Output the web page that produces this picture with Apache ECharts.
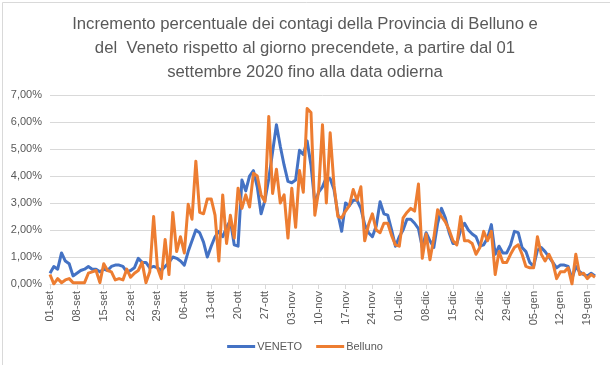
<!DOCTYPE html>
<html>
<head>
<meta charset="utf-8">
<script src="https://cdn.jsdelivr.net/npm/echarts@6/dist/echarts.min.js"></script>
<style>
html,body{margin:0;padding:0;background:#fff;}
#chart{width:610px;height:365px;}
</style>
</head>
<body>
<div id="chart"></div>
<script>
// ---- data ----
const startDate = [2020, 8, 1]; // 1 settembre 2020
const monthNames = ['gen','feb','mar','apr','mag','giu','lug','ago','set','ott','nov','dic'];
const dayCount = 143;
const yTicks = [0, 1, 2, 3, 4, 5, 6, 7];

const veneto = [
  0.40,0.65,0.55,1.15,0.85,0.75,0.30,0.40,0.50,0.55,
  0.65,0.55,0.55,0.45,0.55,0.50,0.65,0.70,0.70,0.65,
  0.45,0.50,0.60,0.95,0.80,0.80,0.60,0.65,0.60,0.50,
  0.65,0.80,1.00,0.95,0.85,0.70,1.20,1.60,2.00,1.90,
  1.55,1.00,1.40,1.75,1.95,1.75,2.10,2.35,1.45,1.40,
  3.85,3.45,4.00,4.20,3.60,2.60,3.10,3.90,4.90,5.90,
  5.10,4.40,3.80,3.75,3.85,4.95,4.80,5.30,4.40,3.00,
  3.40,3.60,3.95,3.90,3.50,2.60,1.95,3.00,2.90,3.10,
  3.10,2.80,2.20,1.90,1.75,2.15,3.05,2.60,2.55,2.00,
  1.40,1.75,2.00,2.40,2.40,2.25,2.05,1.35,1.90,1.60,
  1.35,2.25,2.80,2.45,1.90,1.50,1.50,2.00,2.25,2.00,
  1.85,1.75,1.40,1.45,1.70,2.20,1.10,1.40,1.15,1.15,
  1.45,1.95,1.90,1.35,1.20,0.80,0.65,1.25,1.35,1.20,
  1.00,0.80,0.60,0.70,0.70,0.65,0.20,0.65,0.45,0.35,
  0.30,0.40,0.30
];

const belluno = [
  0.35,0.00,0.20,0.05,0.15,0.20,0.05,0.05,0.05,0.05,
  0.40,0.45,0.50,0.05,0.75,0.50,0.45,0.15,0.20,0.15,
  0.55,0.25,0.40,0.50,0.80,0.05,0.45,2.50,0.60,0.20,
  1.65,0.35,2.65,1.20,1.75,1.15,2.95,2.40,4.55,2.65,
  2.60,3.15,3.15,2.55,0.85,3.30,1.50,2.55,1.70,3.55,
  2.80,3.30,2.85,4.10,4.00,3.30,3.05,6.20,3.35,4.25,
  3.00,3.30,1.70,3.55,2.10,4.20,3.40,6.50,6.35,2.55,
  3.45,5.90,3.00,5.60,3.65,2.50,2.45,2.70,2.90,3.50,
  3.10,3.60,1.60,2.20,2.60,2.00,1.90,2.25,2.25,1.80,
  1.45,1.40,2.45,2.65,2.80,2.70,3.70,0.95,1.85,0.90,
  1.70,2.75,2.50,2.30,2.00,1.60,1.45,2.50,1.60,1.60,
  1.50,1.10,1.35,1.95,1.60,1.95,0.35,1.20,0.80,0.80,
  1.10,1.35,1.45,1.10,0.65,0.60,0.60,1.75,1.10,0.85,
  1.10,0.80,0.20,0.45,0.45,0.60,0.00,1.10,0.35,0.40,
  0.20,0.35,0.25
];

const titleText = 'Incremento percentuale dei contagi della Provincia di Belluno e\ndel  Veneto rispetto al giorno precendete, a partire dal 01\nsettembre 2020 fino alla data odierna';

// category labels (dd-mmm)
const categories = [];
for (let i = 0; i < dayCount; i++) {
  const dt = new Date(startDate[0], startDate[1], startDate[2] + i);
  const dd = String(dt.getDate()).padStart(2, '0');
  categories.push(dd + '-' + monthNames[dt.getMonth()]);
}

const FONT = '"Liberation Sans", Arial, sans-serif';
const chart = echarts.init(document.getElementById('chart'), null, {renderer: 'canvas'});
chart.setOption({
  animation: false,
  backgroundColor: '#ffffff',
  graphic: [{
    type: 'rect', left: 0, top: 0,
    shape: {x: 0.5, y: 0.5, width: 609, height: 364},
    style: {fill: 'none', stroke: '#d9d9d9', lineWidth: 1},
    silent: true, z: -1
  }],
  title: {
    text: titleText,
    left: 'center',
    top: 7,
    textStyle: {
      fontFamily: FONT, fontSize: 16.7, fontWeight: 'normal',
      color: '#595959', lineHeight: 24
    }
  },
  legend: {
    bottom: 8,
    left: 'center',
    icon: 'rect',
    itemWidth: 28,
    itemHeight: 3,
    itemGap: 14,
    textStyle: {fontFamily: FONT, fontSize: 11, color: '#595959', padding: [0,0,0,-3]},
    data: ['VENETO', 'Belluno']
  },
  grid: {left: 50, right: 15, top: 95, bottom: 81, containLabel: false},
  xAxis: {
    type: 'category',
    data: categories,
    boundaryGap: false,
    axisLine: {lineStyle: {color: '#d9d9d9', width: 1}},
    axisTick: {show: true, interval: 6, length: 5, lineStyle: {color: '#d9d9d9'}},
    axisLabel: {
      interval: 6, rotate: 90, margin: 7,
      fontFamily: FONT, fontSize: 11, color: '#595959'
    },
    splitLine: {show: false}
  },
  yAxis: {
    type: 'value',
    min: yTicks[0],
    max: yTicks[yTicks.length - 1],
    interval: 1,
    axisLine: {show: false},
    axisTick: {show: false},
    axisLabel: {
      margin: 8,
      fontFamily: FONT, fontSize: 11, color: '#595959',
      formatter: v => v.toFixed(2).replace('.', ',') + '%'
    },
    splitLine: {lineStyle: {color: '#d9d9d9', width: 1}}
  },
  series: [
    {
      name: 'VENETO', type: 'line', data: veneto,
      showSymbol: false, symbol: 'none',
      lineStyle: {color: '#4472C4', width: 3, join: 'round'},
      itemStyle: {color: '#4472C4'}
    },
    {
      name: 'Belluno', type: 'line', data: belluno,
      showSymbol: false, symbol: 'none',
      lineStyle: {color: '#ED7D31', width: 3, join: 'round'},
      itemStyle: {color: '#ED7D31'}
    }
  ]
});
</script>
</body>
</html>
